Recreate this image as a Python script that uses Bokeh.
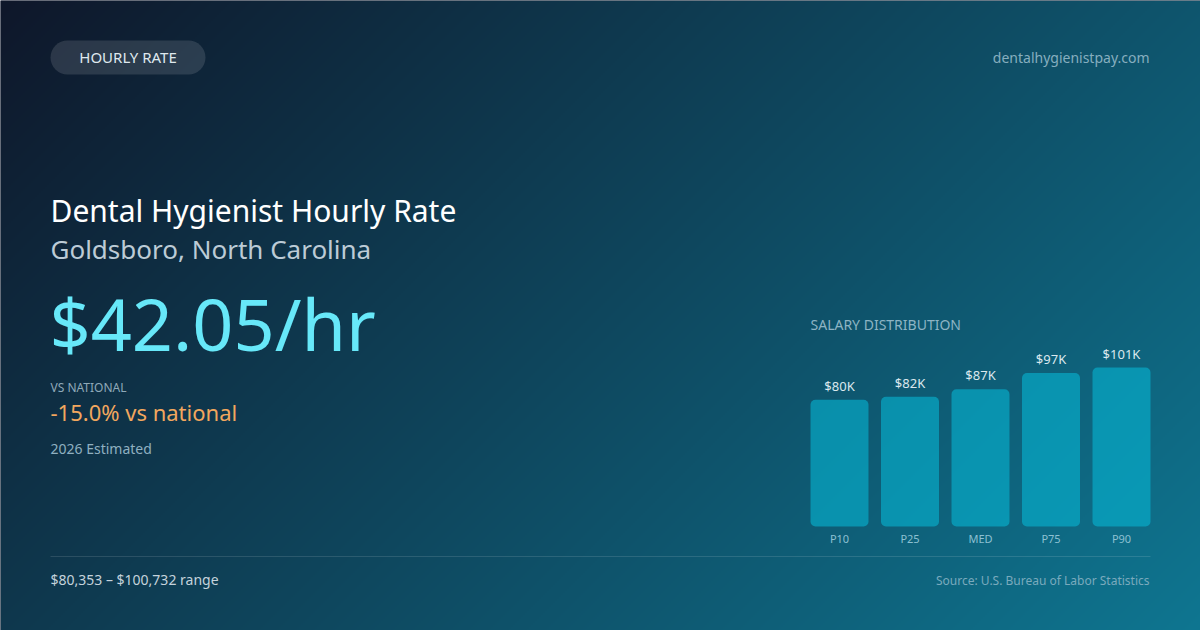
import numpy as np
from bokeh.plotting import figure
from bokeh.models import Range1d, Label
from bokeh.core.properties import value
from bokeh.embed import file_html
from bokeh.resources import INLINE

# ---------------- data ----------------
percentiles = ["P10", "P25", "MED", "P75", "P90"]
salaries = [80353, 82150, 86900, 97200, 100732]
bar_labels = [f"${round(v / 1000)}K" for v in salaries]
hourly_rate = 42.05
vs_national_pct = -15.0
estimate_year = 2026
title = "Dental Hygienist Hourly Rate"
location = "Goldsboro, North Carolina"
badge = "HOURLY RATE"
site = "dentalhygienistpay.com"
source = "Source: U.S. Bureau of Labor Statistics"
range_text = f"${salaries[0]:,} \u2013 ${salaries[-1]:,} range"

FONT = "Noto Sans"
W, H = 1200, 630
BASE_FIX = 0.45   # em shift so the alphabetic baseline lands where intended


def Y(v):
    """reference pixel row -> data y (y grows upward)"""
    return H - v


p = figure(width=W, height=H, x_range=Range1d(0, W), y_range=Range1d(0, H),
           output_backend="svg", toolbar_location=None, min_border=0,
           x_axis_type=None, y_axis_type=None)
p.grid.visible = False
p.outline_line_color = None
p.background_fill_color = "#0f172a"
p.border_fill_color = "#0f172a"

# ---------------- background gradient (135deg) ----------------
step = 2
ny, nx = H // step, W // step
cols = (np.arange(nx) + 0.5) * step
rows_y = (np.arange(ny) + 0.5) * step          # data y
ref_y = H - rows_y
t = (cols[None, :] + ref_y[:, None]) / (W + H)
c0 = np.array([15, 23, 42], dtype=float)
c1 = np.array([14, 118, 145], dtype=float)
img = np.empty((ny, nx), dtype=np.uint32)
view = img.view(dtype=np.uint8).reshape((ny, nx, 4))
for k in range(3):
    view[:, :, k] = np.clip(c0[k] + (c1[k] - c0[k]) * t, 0, 255).astype(np.uint8)
view[:, :, 3] = 255
p.image_rgba(image=[img], x=0, y=0, dw=W, dh=H)

# ---------------- badge ----------------
p.quad(left=50, right=205, bottom=Y(74), top=Y(40), border_radius=17,
       fill_color="white", fill_alpha=0.12, line_color=None)


def lab(x, base, text, size, color, align="left"):
    p.add_layout(Label(x=x, y=Y(base) + BASE_FIX * size, text=text, text_font=FONT,
                       text_font_size=f"{size}px", text_color=color, text_align=align,
                       text_baseline="alphabetic"))


lab(127.5, 63, badge, 15, "#dfe8ee", align="center")
lab(1149, 63, site, 14, "#86aebf", align="right")

# ---------------- left block ----------------
lab(50, 223, title, 30, "#ffffff")
lab(50, 260, location, 26, "#bccbd6")
lab(49, 355, f"${hourly_rate:.2f}/hr", 72, "#67e8f9")
lab(50, 392, "VS NATIONAL", 12, "#8ea9b9")
lab(50, 421, f"{vs_national_pct:.1f}% vs national", 22, "#f2a75e")
lab(50, 454, f"{estimate_year} Estimated", 14, "#8fb0c0")

# ---------------- bar chart ----------------
s = 159.0 / 100732.0            # px per dollar
bar_base = 526
p.extra_y_ranges = {"by": Range1d(-(H - bar_base) / s, bar_base / s)}
spacing = 70.5
first_center = 839
p.extra_x_ranges = {"bx": Range1d(-first_center / spacing, (W - first_center) / spacing)}
idx = list(range(len(percentiles)))

lab(810, 330, "SALARY DISTRIBUTION", 14, "#8db4c4")

p.vbar(x=idx, top=salaries, bottom=0, width=58 / spacing, x_range_name="bx", y_range_name="by",
       fill_color="#06b6d4", fill_alpha=0.6, line_color=None, border_radius=5)
p.text(x=idx, y=salaries, text=bar_labels, x_range_name="bx", y_range_name="by",
       text_align="center", text_baseline="alphabetic", y_offset=-8 - BASE_FIX * 13,
       text_font=value(FONT), text_font_size="13px", text_color="#dbe8ee")
p.text(x=idx, y=[0] * len(idx), text=percentiles, x_range_name="bx", y_range_name="by",
       text_align="center", text_baseline="alphabetic", y_offset=17 - BASE_FIX * 11,
       text_font=value(FONT), text_font_size="11px", text_color="#8cc0d2")

# ---------------- footer ----------------
p.line(x=[50, 1150], y=[Y(556), Y(556)], line_color="white", line_alpha=0.12, line_width=1)
lab(50, 585, range_text, 14, "#c5d3dc")
lab(1149, 585, source, 12, "#7aaabd", align="right")

open("out.html", "w").write(file_html(p, INLINE))
